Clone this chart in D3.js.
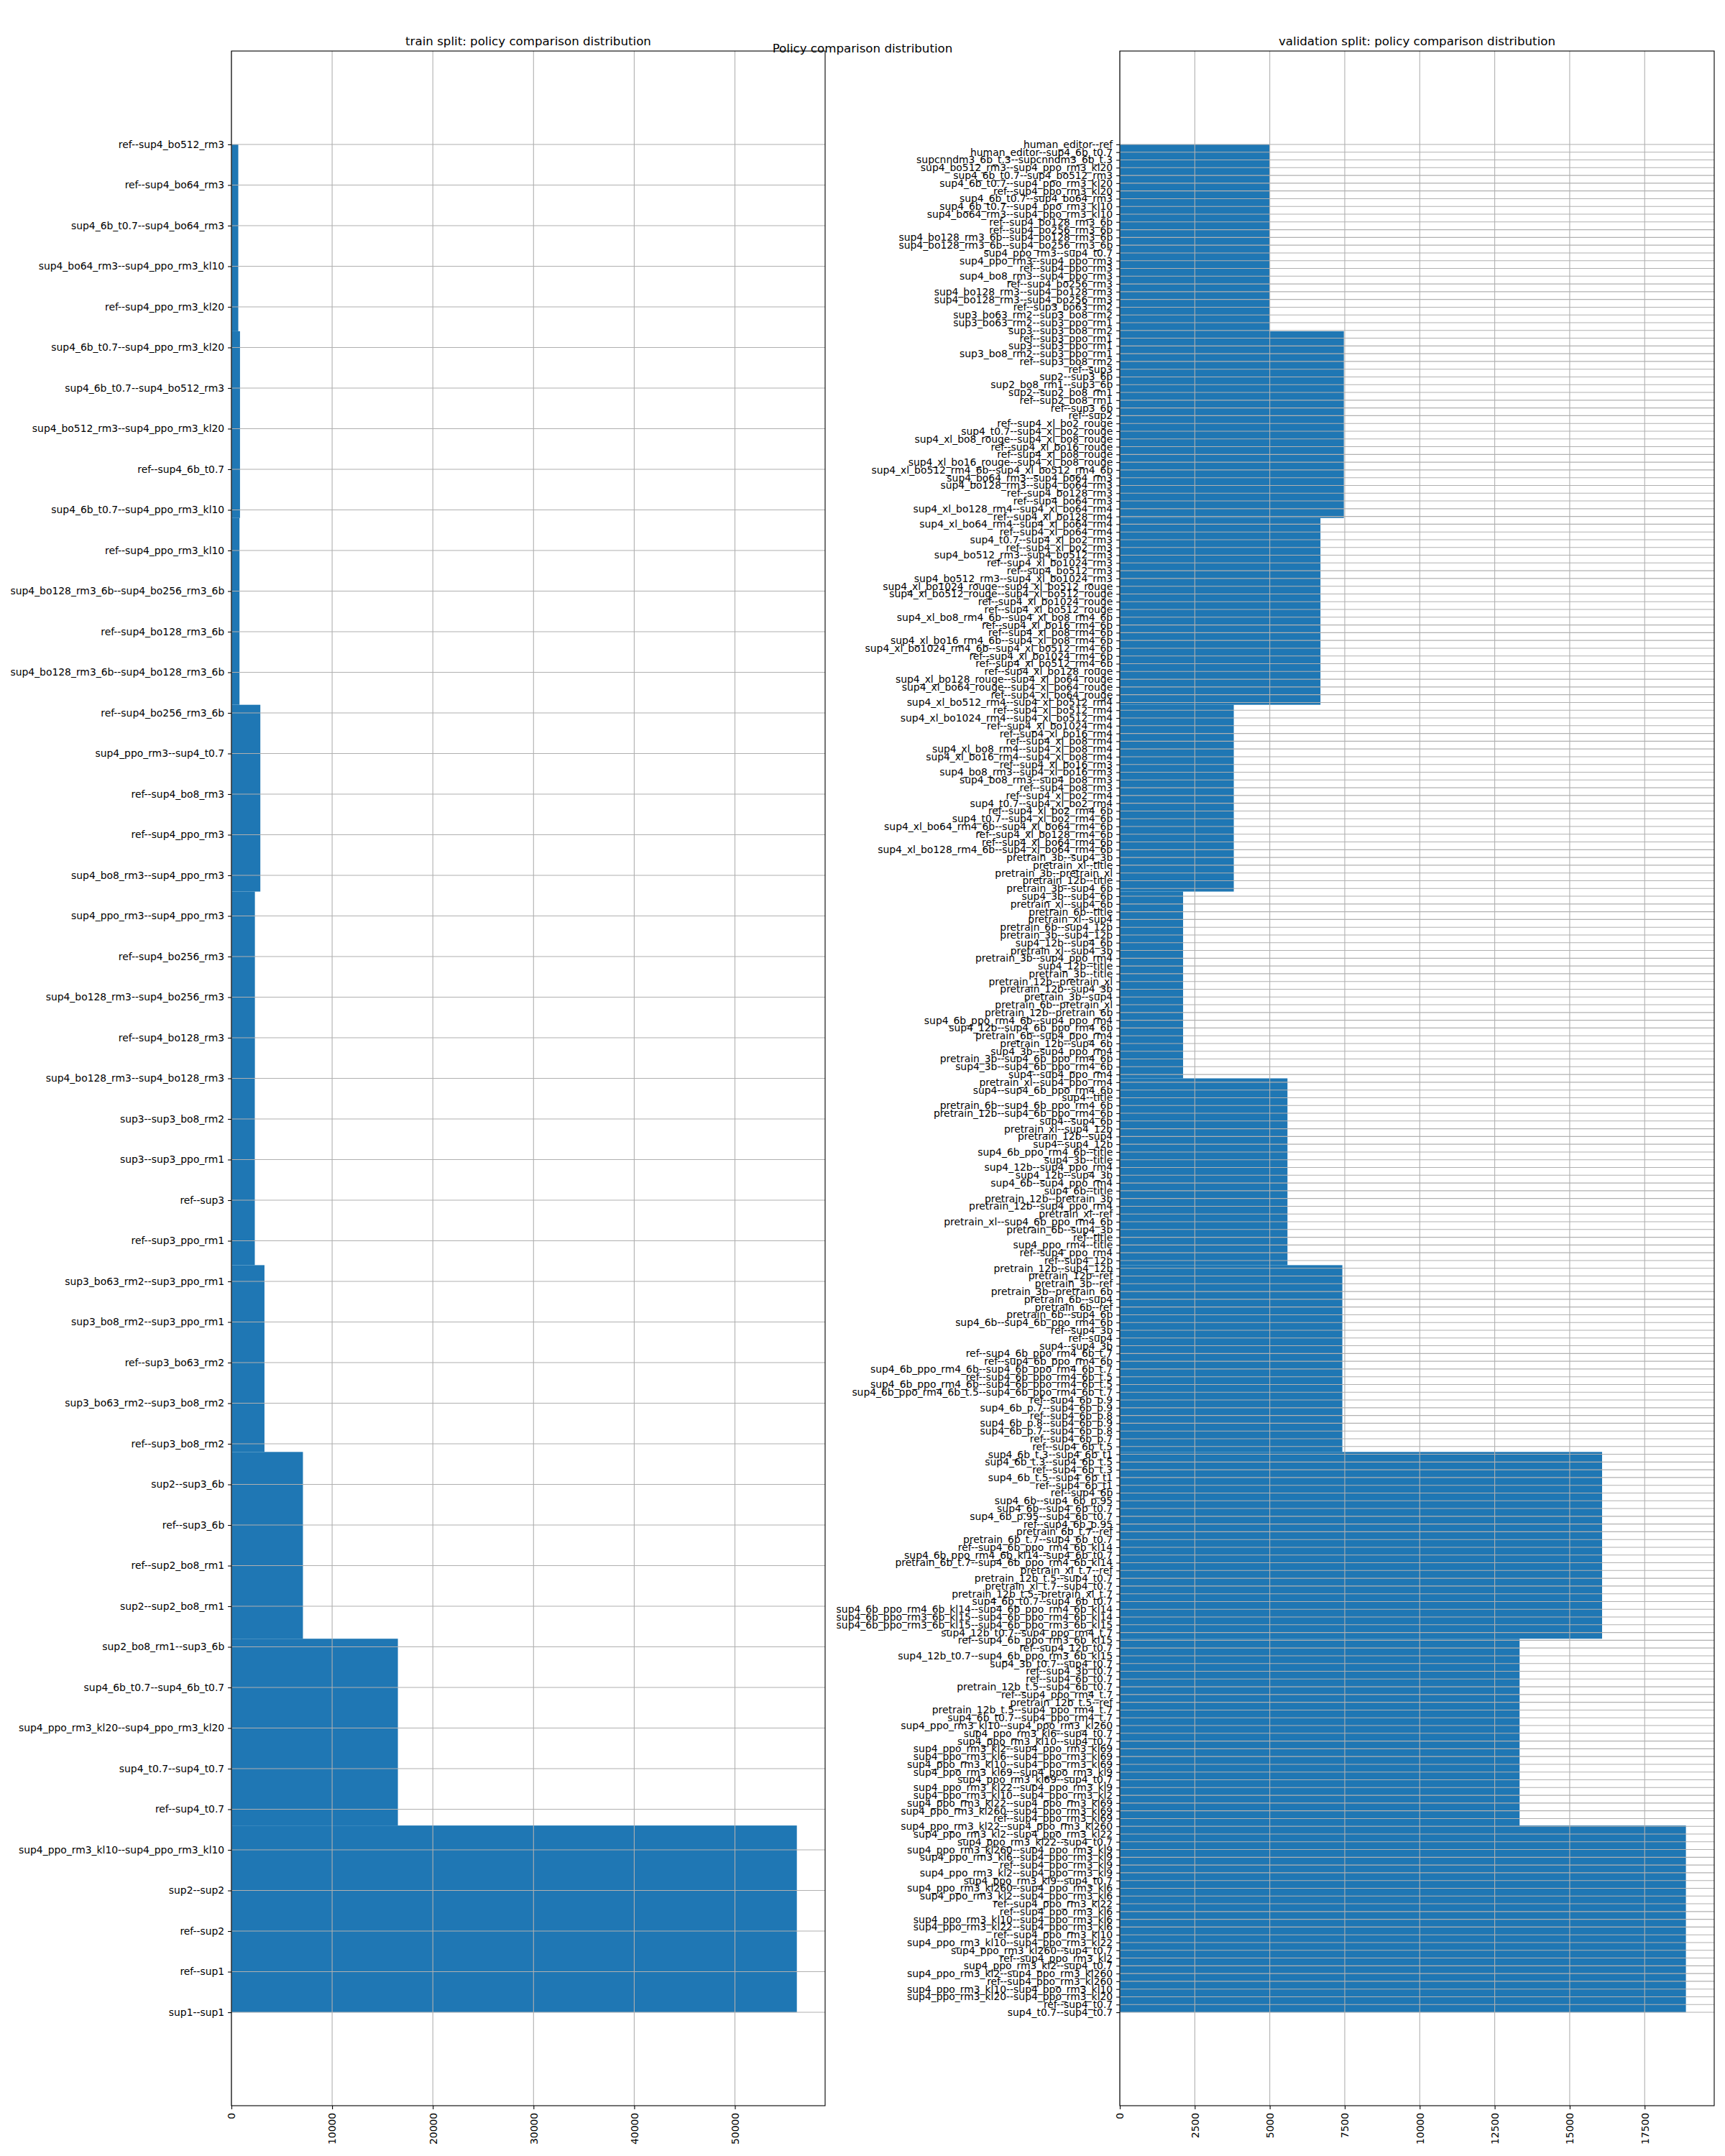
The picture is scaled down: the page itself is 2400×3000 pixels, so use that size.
<!DOCTYPE html>
<html><head><meta charset="utf-8">
<script src="https://cdn.jsdelivr.net/npm/d3@7"></script>
<style>
body{margin:0;background:#fff}
svg{display:block}
text{font-family:"DejaVu Sans",sans-serif;fill:#000}
</style>
</head><body>
<svg id="chart" width="2400" height="3000"></svg>
<script>
// Category labels, listed top to bottom as they appear on the y axis
const trainCategories = [
"ref--sup4_bo512_rm3","ref--sup4_bo64_rm3","sup4_6b_t0.7--sup4_bo64_rm3","sup4_bo64_rm3--sup4_ppo_rm3_kl10",
"ref--sup4_ppo_rm3_kl20","sup4_6b_t0.7--sup4_ppo_rm3_kl20","sup4_6b_t0.7--sup4_bo512_rm3","sup4_bo512_rm3--sup4_ppo_rm3_kl20",
"ref--sup4_6b_t0.7","sup4_6b_t0.7--sup4_ppo_rm3_kl10","ref--sup4_ppo_rm3_kl10","sup4_bo128_rm3_6b--sup4_bo256_rm3_6b",
"ref--sup4_bo128_rm3_6b","sup4_bo128_rm3_6b--sup4_bo128_rm3_6b","ref--sup4_bo256_rm3_6b","sup4_ppo_rm3--sup4_t0.7",
"ref--sup4_bo8_rm3","ref--sup4_ppo_rm3","sup4_bo8_rm3--sup4_ppo_rm3","sup4_ppo_rm3--sup4_ppo_rm3",
"ref--sup4_bo256_rm3","sup4_bo128_rm3--sup4_bo256_rm3","ref--sup4_bo128_rm3","sup4_bo128_rm3--sup4_bo128_rm3",
"sup3--sup3_bo8_rm2","sup3--sup3_ppo_rm1","ref--sup3","ref--sup3_ppo_rm1",
"sup3_bo63_rm2--sup3_ppo_rm1","sup3_bo8_rm2--sup3_ppo_rm1","ref--sup3_bo63_rm2","sup3_bo63_rm2--sup3_bo8_rm2",
"ref--sup3_bo8_rm2","sup2--sup3_6b","ref--sup3_6b","ref--sup2_bo8_rm1",
"sup2--sup2_bo8_rm1","sup2_bo8_rm1--sup3_6b","sup4_6b_t0.7--sup4_6b_t0.7","sup4_ppo_rm3_kl20--sup4_ppo_rm3_kl20",
"sup4_t0.7--sup4_t0.7","ref--sup4_t0.7","sup4_ppo_rm3_kl10--sup4_ppo_rm3_kl10","sup2--sup2",
"ref--sup2","ref--sup1","sup1--sup1"
];
// Histogram counts per bin, from the bottom bin upward (10 bins)
const trainBinCounts = [56150, 16530, 7100, 3280, 2320, 2330, 2870, 800, 850, 680];
const trainTicks = [0, 10000, 20000, 30000, 40000, 50000];

const valCategories = [
"human_editor--ref","human_editor--sup4_6b_t0.7","supcnndm3_6b_t.3--supcnndm3_6b_t.3","sup4_bo512_rm3--sup4_ppo_rm3_kl20",
"sup4_6b_t0.7--sup4_bo512_rm3","sup4_6b_t0.7--sup4_ppo_rm3_kl20","ref--sup4_ppo_rm3_kl20","sup4_6b_t0.7--sup4_bo64_rm3",
"sup4_6b_t0.7--sup4_ppo_rm3_kl10","sup4_bo64_rm3--sup4_ppo_rm3_kl10","ref--sup4_bo128_rm3_6b","ref--sup4_bo256_rm3_6b",
"sup4_bo128_rm3_6b--sup4_bo128_rm3_6b","sup4_bo128_rm3_6b--sup4_bo256_rm3_6b","sup4_ppo_rm3--sup4_t0.7","sup4_ppo_rm3--sup4_ppo_rm3",
"ref--sup4_ppo_rm3","sup4_bo8_rm3--sup4_ppo_rm3","ref--sup4_bo256_rm3","sup4_bo128_rm3--sup4_bo128_rm3",
"sup4_bo128_rm3--sup4_bo256_rm3","ref--sup3_bo63_rm2","sup3_bo63_rm2--sup3_bo8_rm2","sup3_bo63_rm2--sup3_ppo_rm1",
"sup3--sup3_bo8_rm2","ref--sup3_ppo_rm1","sup3--sup3_ppo_rm1","sup3_bo8_rm2--sup3_ppo_rm1",
"ref--sup3_bo8_rm2","ref--sup3","sup2--sup3_6b","sup2_bo8_rm1--sup3_6b",
"sup2--sup2_bo8_rm1","ref--sup2_bo8_rm1","ref--sup3_6b","ref--sup2",
"ref--sup4_xl_bo2_rouge","sup4_t0.7--sup4_xl_bo2_rouge","sup4_xl_bo8_rouge--sup4_xl_bo8_rouge","ref--sup4_xl_bo16_rouge",
"ref--sup4_xl_bo8_rouge","sup4_xl_bo16_rouge--sup4_xl_bo8_rouge","sup4_xl_bo512_rm4_6b--sup4_xl_bo512_rm4_6b","sup4_bo64_rm3--sup4_bo64_rm3",
"sup4_bo128_rm3--sup4_bo64_rm3","ref--sup4_bo128_rm3","ref--sup4_bo64_rm3","sup4_xl_bo128_rm4--sup4_xl_bo64_rm4",
"ref--sup4_xl_bo128_rm4","sup4_xl_bo64_rm4--sup4_xl_bo64_rm4","ref--sup4_xl_bo64_rm4","sup4_t0.7--sup4_xl_bo2_rm3",
"ref--sup4_xl_bo2_rm3","sup4_bo512_rm3--sup4_bo512_rm3","ref--sup4_xl_bo1024_rm3","ref--sup4_bo512_rm3",
"sup4_bo512_rm3--sup4_xl_bo1024_rm3","sup4_xl_bo1024_rouge--sup4_xl_bo512_rouge","sup4_xl_bo512_rouge--sup4_xl_bo512_rouge","ref--sup4_xl_bo1024_rouge",
"ref--sup4_xl_bo512_rouge","sup4_xl_bo8_rm4_6b--sup4_xl_bo8_rm4_6b","ref--sup4_xl_bo16_rm4_6b","ref--sup4_xl_bo8_rm4_6b",
"sup4_xl_bo16_rm4_6b--sup4_xl_bo8_rm4_6b","sup4_xl_bo1024_rm4_6b--sup4_xl_bo512_rm4_6b","ref--sup4_xl_bo1024_rm4_6b","ref--sup4_xl_bo512_rm4_6b",
"ref--sup4_xl_bo128_rouge","sup4_xl_bo128_rouge--sup4_xl_bo64_rouge","sup4_xl_bo64_rouge--sup4_xl_bo64_rouge","ref--sup4_xl_bo64_rouge",
"sup4_xl_bo512_rm4--sup4_xl_bo512_rm4","ref--sup4_xl_bo512_rm4","sup4_xl_bo1024_rm4--sup4_xl_bo512_rm4","ref--sup4_xl_bo1024_rm4",
"ref--sup4_xl_bo16_rm4","ref--sup4_xl_bo8_rm4","sup4_xl_bo8_rm4--sup4_xl_bo8_rm4","sup4_xl_bo16_rm4--sup4_xl_bo8_rm4",
"ref--sup4_xl_bo16_rm3","sup4_bo8_rm3--sup4_xl_bo16_rm3","sup4_bo8_rm3--sup4_bo8_rm3","ref--sup4_bo8_rm3",
"ref--sup4_xl_bo2_rm4","sup4_t0.7--sup4_xl_bo2_rm4","ref--sup4_xl_bo2_rm4_6b","sup4_t0.7--sup4_xl_bo2_rm4_6b",
"sup4_xl_bo64_rm4_6b--sup4_xl_bo64_rm4_6b","ref--sup4_xl_bo128_rm4_6b","ref--sup4_xl_bo64_rm4_6b","sup4_xl_bo128_rm4_6b--sup4_xl_bo64_rm4_6b",
"pretrain_3b--sup4_3b","pretrain_xl--title","pretrain_3b--pretrain_xl","pretrain_12b--title",
"pretrain_3b--sup4_6b","sup4_3b--sup4_6b","pretrain_xl--sup4_6b","pretrain_6b--title",
"pretrain_xl--sup4","pretrain_6b--sup4_12b","pretrain_3b--sup4_12b","sup4_12b--sup4_6b",
"pretrain_xl--sup4_3b","pretrain_3b--sup4_ppo_rm4","sup4_12b--title","pretrain_3b--title",
"pretrain_12b--pretrain_xl","pretrain_12b--sup4_3b","pretrain_3b--sup4","pretrain_6b--pretrain_xl",
"pretrain_12b--pretrain_6b","sup4_6b_ppo_rm4_6b--sup4_ppo_rm4","sup4_12b--sup4_6b_ppo_rm4_6b","pretrain_6b--sup4_ppo_rm4",
"pretrain_12b--sup4_6b","sup4_3b--sup4_ppo_rm4","pretrain_3b--sup4_6b_ppo_rm4_6b","sup4_3b--sup4_6b_ppo_rm4_6b",
"sup4--sup4_ppo_rm4","pretrain_xl--sup4_ppo_rm4","sup4--sup4_6b_ppo_rm4_6b","sup4--title",
"pretrain_6b--sup4_6b_ppo_rm4_6b","pretrain_12b--sup4_6b_ppo_rm4_6b","sup4--sup4_6b","pretrain_xl--sup4_12b",
"pretrain_12b--sup4","sup4--sup4_12b","sup4_6b_ppo_rm4_6b--title","sup4_3b--title",
"sup4_12b--sup4_ppo_rm4","sup4_12b--sup4_3b","sup4_6b--sup4_ppo_rm4","sup4_6b--title",
"pretrain_12b--pretrain_3b","pretrain_12b--sup4_ppo_rm4","pretrain_xl--ref","pretrain_xl--sup4_6b_ppo_rm4_6b",
"pretrain_6b--sup4_3b","ref--title","sup4_ppo_rm4--title","ref--sup4_ppo_rm4",
"ref--sup4_12b","pretrain_12b--sup4_12b","pretrain_12b--ref","pretrain_3b--ref",
"pretrain_3b--pretrain_6b","pretrain_6b--sup4","pretrain_6b--ref","pretrain_6b--sup4_6b",
"sup4_6b--sup4_6b_ppo_rm4_6b","ref--sup4_3b","ref--sup4","sup4--sup4_3b",
"ref--sup4_6b_ppo_rm4_6b_t.7","ref--sup4_6b_ppo_rm4_6b","sup4_6b_ppo_rm4_6b--sup4_6b_ppo_rm4_6b_t.7","ref--sup4_6b_ppo_rm4_6b_t.5",
"sup4_6b_ppo_rm4_6b--sup4_6b_ppo_rm4_6b_t.5","sup4_6b_ppo_rm4_6b_t.5--sup4_6b_ppo_rm4_6b_t.7","ref--sup4_6b_p.9","sup4_6b_p.7--sup4_6b_p.9",
"ref--sup4_6b_p.8","sup4_6b_p.8--sup4_6b_p.9","sup4_6b_p.7--sup4_6b_p.8","ref--sup4_6b_p.7",
"ref--sup4_6b_t.5","sup4_6b_t.3--sup4_6b_t1","sup4_6b_t.3--sup4_6b_t.5","ref--sup4_6b_t.3",
"sup4_6b_t.5--sup4_6b_t1","ref--sup4_6b_t1","ref--sup4_6b","sup4_6b--sup4_6b_p.95",
"sup4_6b--sup4_6b_t0.7","sup4_6b_p.95--sup4_6b_t0.7","ref--sup4_6b_p.95","pretrain_6b_t.7--ref",
"pretrain_6b_t.7--sup4_6b_t0.7","ref--sup4_6b_ppo_rm4_6b_kl14","sup4_6b_ppo_rm4_6b_kl14--sup4_6b_t0.7","pretrain_6b_t.7--sup4_6b_ppo_rm4_6b_kl14",
"pretrain_xl_t.7--ref","pretrain_12b_t.5--sup4_t0.7","pretrain_xl_t.7--sup4_t0.7","pretrain_12b_t.5--pretrain_xl_t.7",
"sup4_6b_t0.7--sup4_6b_t0.7","sup4_6b_ppo_rm4_6b_kl14--sup4_6b_ppo_rm4_6b_kl14","sup4_6b_ppo_rm3_6b_kl15--sup4_6b_ppo_rm4_6b_kl14","sup4_6b_ppo_rm3_6b_kl15--sup4_6b_ppo_rm3_6b_kl15",
"sup4_12b_t0.7--sup4_ppo_rm4_t.7","ref--sup4_6b_ppo_rm3_6b_kl15","ref--sup4_12b_t0.7","sup4_12b_t0.7--sup4_6b_ppo_rm3_6b_kl15",
"sup4_3b_t0.7--sup4_t0.7","ref--sup4_3b_t0.7","ref--sup4_6b_t0.7","pretrain_12b_t.5--sup4_6b_t0.7",
"ref--sup4_ppo_rm4_t.7","pretrain_12b_t.5--ref","pretrain_12b_t.5--sup4_ppo_rm4_t.7","sup4_6b_t0.7--sup4_ppo_rm4_t.7",
"sup4_ppo_rm3_kl10--sup4_ppo_rm3_kl260","sup4_ppo_rm3_kl6--sup4_t0.7","sup4_ppo_rm3_kl10--sup4_t0.7","sup4_ppo_rm3_kl2--sup4_ppo_rm3_kl69",
"sup4_ppo_rm3_kl6--sup4_ppo_rm3_kl69","sup4_ppo_rm3_kl10--sup4_ppo_rm3_kl69","sup4_ppo_rm3_kl69--sup4_ppo_rm3_kl9","sup4_ppo_rm3_kl69--sup4_t0.7",
"sup4_ppo_rm3_kl22--sup4_ppo_rm3_kl9","sup4_ppo_rm3_kl10--sup4_ppo_rm3_kl2","sup4_ppo_rm3_kl22--sup4_ppo_rm3_kl69","sup4_ppo_rm3_kl260--sup4_ppo_rm3_kl69",
"ref--sup4_ppo_rm3_kl69","sup4_ppo_rm3_kl22--sup4_ppo_rm3_kl260","sup4_ppo_rm3_kl2--sup4_ppo_rm3_kl22","sup4_ppo_rm3_kl22--sup4_t0.7",
"sup4_ppo_rm3_kl260--sup4_ppo_rm3_kl9","sup4_ppo_rm3_kl6--sup4_ppo_rm3_kl9","ref--sup4_ppo_rm3_kl9","sup4_ppo_rm3_kl2--sup4_ppo_rm3_kl9",
"sup4_ppo_rm3_kl9--sup4_t0.7","sup4_ppo_rm3_kl260--sup4_ppo_rm3_kl6","sup4_ppo_rm3_kl2--sup4_ppo_rm3_kl6","ref--sup4_ppo_rm3_kl22",
"ref--sup4_ppo_rm3_kl6","sup4_ppo_rm3_kl10--sup4_ppo_rm3_kl6","sup4_ppo_rm3_kl22--sup4_ppo_rm3_kl6","ref--sup4_ppo_rm3_kl10",
"sup4_ppo_rm3_kl10--sup4_ppo_rm3_kl22","sup4_ppo_rm3_kl260--sup4_t0.7","ref--sup4_ppo_rm3_kl2","sup4_ppo_rm3_kl2--sup4_t0.7",
"sup4_ppo_rm3_kl2--sup4_ppo_rm3_kl260","ref--sup4_ppo_rm3_kl260","sup4_ppo_rm3_kl10--sup4_ppo_rm3_kl10","sup4_ppo_rm3_kl20--sup4_ppo_rm3_kl20",
"ref--sup4_t0.7","sup4_t0.7--sup4_t0.7"
];
const valBinCounts = [18875, 13330, 16080, 7420, 5590, 2110, 3800, 6690, 7470, 4990];
const valTicks = [0, 2500, 5000, 7500, 10000, 12500, 15000, 17500];

const titles = ["train split: policy comparison distribution", "validation split: policy comparison distribution"];
const suptitle = "Policy comparison distribution";

const svg = d3.select("#chart");
const TICK_FONT = 13.9, TITLE_FONT = 16.67, TICK_LEN = 4.9, PAD = 4.9, LW = 1.1;
const TOP = 71, BOTTOM = 2930;

function drawPanel(cats, binCounts, ticks, title, left, right) {
  const N = cats.length;
  const g = svg.append("g");
  const x = d3.scaleLinear().domain([0, d3.max(binCounts) * 1.05]).range([left, right]);
  const y = d3.scaleLinear().domain([-0.05 * (N - 1), 1.05 * (N - 1)]).range([BOTTOM, TOP]);
  // category index: bottom label = 0
  const idxOf = i => N - 1 - i;
  const bw = (N - 1) / binCounts.length;

  // bars (histogram bins)
  g.append("g").selectAll("rect").data(binCounts).join("rect")
    .attr("x", x(0))
    .attr("width", d => x(d) - x(0))
    .attr("y", (d, j) => y((j + 1) * bw))
    .attr("height", (d, j) => y(j * bw) - y((j + 1) * bw))
    .attr("fill", "#1f77b4");

  // grid (above bars, matplotlib default)
  const grid = g.append("g").attr("stroke", "#b0b0b0").attr("stroke-width", LW);
  grid.selectAll("line.v").data(ticks).join("line").attr("class", "v")
    .attr("x1", d => x(d)).attr("x2", d => x(d)).attr("y1", TOP).attr("y2", BOTTOM);
  grid.selectAll("line.h").data(cats).join("line").attr("class", "h")
    .attr("x1", left).attr("x2", right)
    .attr("y1", (d, i) => y(idxOf(i))).attr("y2", (d, i) => y(idxOf(i)));

  // y axis
  const yAxis = d3.axisLeft(y)
    .tickValues(cats.map((d, i) => idxOf(i)))
    .tickFormat(v => cats[N - 1 - v])
    .tickSize(TICK_LEN).tickPadding(PAD);
  const ya = g.append("g").attr("transform", `translate(${left},0)`).call(yAxis);
  ya.select(".domain").remove();
  ya.selectAll("line").attr("stroke", "#000").attr("stroke-width", LW);
  ya.selectAll("text").attr("font-size", TICK_FONT).attr("font-family", "DejaVu Sans").attr("fill", "#000");

  // x axis
  const xAxis = d3.axisBottom(x).tickValues(ticks).tickFormat(d3.format("d"))
    .tickSize(TICK_LEN).tickPadding(PAD);
  const xa = g.append("g").attr("transform", `translate(0,${BOTTOM})`).call(xAxis);
  xa.select(".domain").remove();
  xa.selectAll("line").attr("stroke", "#000").attr("stroke-width", LW);
  xa.selectAll("text")
    .attr("font-size", TICK_FONT).attr("font-family", "DejaVu Sans").attr("fill", "#000")
    .attr("x", 0).attr("y", 0).attr("dy", "0.35em")
    .attr("text-anchor", "end")
    .attr("transform", `translate(0,${TICK_LEN + PAD}) rotate(-90)`);

  // spines
  g.append("rect").attr("x", left).attr("y", TOP).attr("width", right - left).attr("height", BOTTOM - TOP)
    .attr("fill", "none").attr("stroke", "#000").attr("stroke-width", LW);

  // title
  g.append("text").attr("x", (left + right) / 2).attr("y", TOP - 8.3)
    .attr("text-anchor", "middle").attr("font-size", TITLE_FONT).text(title);
}

drawPanel(trainCategories, trainBinCounts, trainTicks, titles[0], 322, 1148);
drawPanel(valCategories, valBinCounts, valTicks, titles[1], 1558, 2385);

svg.append("text").attr("x", 1200).attr("y", 73).attr("text-anchor", "middle")
  .attr("font-size", TITLE_FONT).text(suptitle);
</script>
</body></html>
